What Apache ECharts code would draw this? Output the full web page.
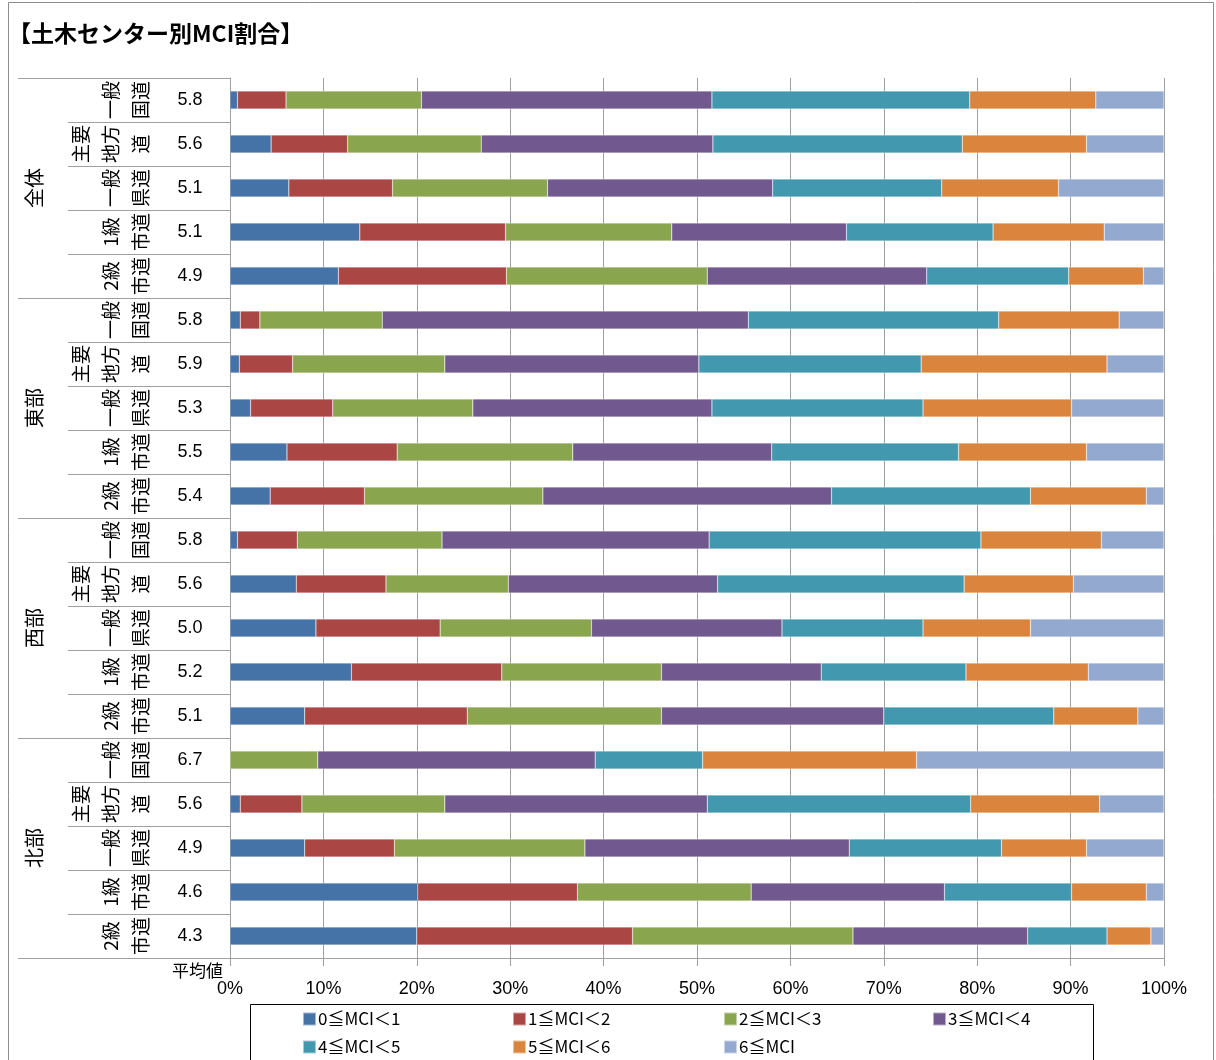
<!DOCTYPE html>
<html>
<head>
<meta charset="utf-8">
<script src="https://cdn.jsdelivr.net/npm/echarts@6/dist/echarts.min.js"></script>
<style>
html,body{margin:0;padding:0;background:#fff;}
#chart{width:1216px;height:1060px;}
</style>
</head>
<body>
<div id="chart"></div>
<script>
// ---- data ----
const titleText = '【土木センター別MCI割合】';
const groups = ['全体', '東部', '西部', '北部'];
const roadTypes = ['一般\n国道', '主要\n地方\n道', '一般\n県道', '1級\n市道', '2級\n市道'];
const avgValues = ['5.8','5.6','5.1','5.1','4.9',
                   '5.8','5.9','5.3','5.5','5.4',
                   '5.8','5.6','5.0','5.2','5.1',
                   '6.7','5.6','4.9','4.6','4.3'];
const seriesNames = ['0≦MCI＜1','1≦MCI＜2','2≦MCI＜3','3≦MCI＜4','4≦MCI＜5','5≦MCI＜6','6≦MCI'];
const mci0 = [0.8, 4.4, 6.3, 13.9, 11.6,  1.1, 1.0, 2.2, 6.1, 4.3,  0.8, 7.1, 9.2, 13.0, 8.0,  0, 1.1, 8.0, 20.1, 20.0];
const mci1 = [5.2, 8.2, 11.1, 15.6, 18.0, 2.1, 5.7, 8.8, 11.8, 10.1, 6.4, 9.6, 13.3, 16.1, 17.4, 0, 6.6, 9.6, 17.1, 23.1];
const mci2 = [14.5, 14.3, 16.6, 17.8, 21.5, 13.1, 16.3, 15.0, 18.8, 19.1, 15.5, 13.1, 16.2, 17.1, 20.8, 9.4, 15.3, 20.4, 18.6, 23.6];
const mci3 = [31.1, 24.8, 24.1, 18.7, 23.5, 39.2, 27.2, 25.6, 21.3, 30.9, 28.6, 22.4, 20.4, 17.1, 23.8, 29.7, 28.1, 28.3, 20.7, 18.7];
const mci4 = [27.6, 26.7, 18.1, 15.7, 15.2, 26.8, 23.8, 22.6, 20.0, 21.3, 29.1, 26.4, 15.1, 15.5, 18.2, 11.5, 28.2, 16.3, 13.6, 8.5];
const mci5 = [13.5, 13.3, 12.5, 11.9, 8.0, 12.9, 19.9, 15.9, 13.7, 12.4, 12.9, 11.7, 11.5, 13.1, 9.0, 22.9, 13.8, 9.1, 8.0, 4.7];
const mci6 = [7.3, 8.3, 11.3, 6.4, 2.2, 4.8, 6.1, 9.9, 8.3, 1.9, 6.7, 9.7, 14.3, 8.1, 2.8, 26.5, 6.9, 8.3, 1.9, 1.4];
const xTicks = [0, 10, 20, 30, 40, 50, 60, 70, 80, 90, 100];
const avgCaption = '平均値';

// ---- chart ----
const colors = ['#4572A7','#AA4643','#89A54E','#71588F','#4198AF','#DB843D','#93A9CF'];
const seriesData = [mci0, mci1, mci2, mci3, mci4, mci5, mci6];
const rowKeys = avgValues.map((v, i) => 'r' + i);
const FONT = '"Liberation Sans", "Noto Sans CJK JP", sans-serif';
const JFONT = '"Noto Sans CJK JP", sans-serif';
const lineColor = '#a0a0a0';

const chart = echarts.init(document.getElementById('chart'), null, {renderer: 'canvas'});

const legendPos = [
  [302, 1009], [512, 1009], [723, 1009], [932, 1009],
  [302, 1037], [512, 1037], [723, 1037]
];

const option = {
  backgroundColor: '#fff',
  animation: false,
  title: {
    text: titleText,
    left: 3, top: 17,
    textStyle: {fontFamily: JFONT, fontSize: 23, fontWeight: 'bold', color: '#000'}
  },
  grid: {left: 230, right: 52, top: 78, bottom: 102, containLabel: false},
  legend: seriesNames.map((n, i) => ({
    data: [n], left: legendPos[i][0], top: legendPos[i][1], padding: 0,
    icon: 'rect', itemWidth: 13, itemHeight: 13, itemGap: 0,
    textStyle: {fontFamily: JFONT, fontSize: 17, color: '#000', lineHeight: 20, padding: [0, 0, 0, -3]}
  })),
  xAxis: {
    type: 'value', min: xTicks[0], max: xTicks[xTicks.length - 1], interval: 10,
    axisLabel: {formatter: '{value}%', fontFamily: FONT, fontSize: 18, color: '#000', margin: 22},
    axisLine: {show: true, lineStyle: {color: lineColor}},
    axisTick: {show: true, length: 8, lineStyle: {color: lineColor}},
    splitLine: {show: true, lineStyle: {color: lineColor, width: 1}}
  },
  yAxis: [
    {
      type: 'category', data: rowKeys, inverse: true, position: 'left',
      axisLine: {show: true, lineStyle: {color: lineColor}},
      axisTick: {show: false},
      axisLabel: {formatter: (v, i) => avgValues[i], align: 'center', margin: 40,
                  fontFamily: FONT, fontSize: 18, color: '#000'}
    },
    {
      type: 'category', data: rowKeys, inverse: true, position: 'left',
      axisLine: {show: false},
      axisTick: {show: true, length: 162, interval: 0, lineStyle: {color: lineColor}},
      axisLabel: {formatter: (v, i) => roadTypes[i % 5], rotate: 90, margin: 74, interval: 0,
                  fontFamily: JFONT, fontSize: 19, lineHeight: 30, color: '#000'}
    },
    {
      type: 'category', data: groups, inverse: true, position: 'left',
      axisLine: {show: false},
      axisTick: {show: true, length: 212, interval: 0, lineStyle: {color: lineColor}},
      axisLabel: {rotate: 90, margin: 186, interval: 0,
                  fontFamily: JFONT, fontSize: 20, color: '#000'}
    }
  ],
  graphic: [
    {type: 'rect', shape: {x: 8.5, y: 2.5, width: 1205, height: 1070},
     style: {fill: 'none', stroke: '#8c8c8c', lineWidth: 1}, silent: true, z: -1},
    {type: 'rect', shape: {x: 250.5, y: 1004.5, width: 843, height: 70},
     style: {fill: 'none', stroke: '#000', lineWidth: 1}, silent: true},
    {type: 'text', left: 172, top: 962,
     style: {text: avgCaption, font: '17px "Noto Sans CJK JP"', fill: '#000'}}
  ],
  series: seriesNames.map((n, i) => ({
    name: n, type: 'bar', stack: 'total', yAxisIndex: 0,
    data: seriesData[i], barWidth: 18,
    itemStyle: {color: colors[i], borderColor: 'rgba(255,255,255,0.5)', borderWidth: 0.5},
    emphasis: {disabled: true}
  })),
  color: colors
};
chart.setOption(option);
</script>
</body>
</html>
